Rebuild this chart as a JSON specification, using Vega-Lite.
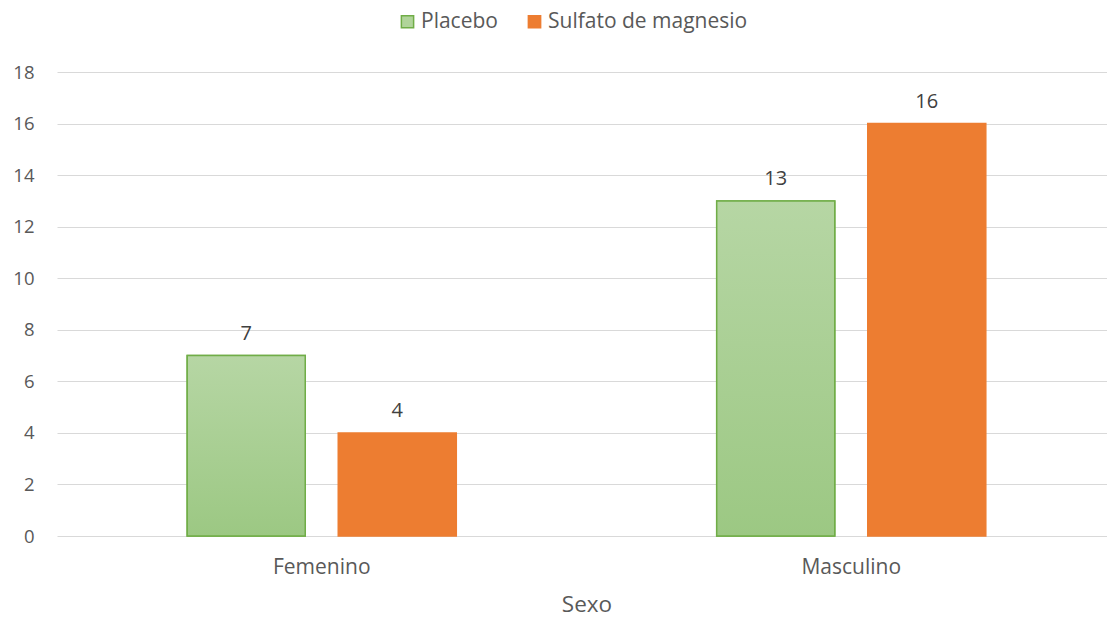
{
  "$schema": "https://vega.github.io/schema/vega-lite/v6.json",
  "width": 1050,
  "height": 464,
  "autosize": {"type": "none"},
  "padding": {"left": 57, "top": 72, "right": 0, "bottom": 82},
  "background": "white",
  "config": {"font": "Open Sans", "view": {"stroke": null}},
  "data": {
    "values": [
      {"sexo": "Femenino", "grupo": "Placebo", "n": 7},
      {"sexo": "Femenino", "grupo": "Sulfato de magnesio", "n": 4},
      {"sexo": "Masculino", "grupo": "Placebo", "n": 13},
      {"sexo": "Masculino", "grupo": "Sulfato de magnesio", "n": 16}
    ]
  },
  "encoding": {
    "x": {
      "field": "sexo",
      "type": "nominal",
      "title": "Sexo",
      "scale": {"paddingInner": 0, "paddingOuter": 0, "range": [0, 1059]},
      "axis": {
        "labelAngle": 0,
        "ticks": false,
        "domain": false,
        "labelPadding": 20,
        "labelFontSize": 21,
        "labelColor": "#595959",
        "titleFontSize": 22.5,
        "titleFontWeight": "normal",
        "titleColor": "#595959",
        "titlePadding": 16
      }
    },
    "xOffset": {
      "field": "grupo",
      "type": "nominal",
      "scale": {
        "domain": ["Placebo", "Sulfato de magnesio"],
        "paddingInner": 0.2185,
        "paddingOuter": 0.862
      }
    },
    "y": {
      "field": "n",
      "type": "quantitative",
      "scale": {"domain": [0, 18]},
      "axis": {
        "title": null,
        "values": [0, 2, 4, 6, 8, 10, 12, 14, 16, 18],
        "domain": false,
        "ticks": false,
        "labelPadding": 23,
        "labelFontSize": 18.5,
        "labelColor": "#595959",
        "gridColor": "#d9d9d9",
        "gridWidth": 1.2
      }
    }
  },
  "layer": [
    {
      "mark": {"type": "bar", "strokeWidth": 1.5},
      "encoding": {
        "color": {
          "field": "grupo",
          "type": "nominal",
          "scale": {"domain": ["Placebo", "Sulfato de magnesio"], "range": ["#b0d49a", "#ed7d31"]},
          "legend": {
            "title": null,
            "orient": "none",
            "direction": "horizontal",
            "legendX": 340,
            "legendY": -61,
            "symbolType": "square",
            "symbolSize": 150,
            "labelFontSize": 21,
            "labelLimit": 400,
            "labelColor": "#595959",
            "labelOffset": 3,
            "columnPadding": 26
          }
        },
        "stroke": {
          "field": "grupo",
          "type": "nominal",
          "scale": {"domain": ["Placebo", "Sulfato de magnesio"], "range": ["#70ad47", "#ed7d31"]},
          "legend": {
            "title": null,
            "orient": "none",
            "direction": "horizontal",
            "legendX": 340,
            "legendY": -61,
            "symbolType": "square",
            "symbolSize": 150,
            "labelFontSize": 21,
            "labelLimit": 400,
            "labelColor": "#595959",
            "labelOffset": 3,
            "columnPadding": 26
          }
        }
      }
    },
    {
      "transform": [{"filter": "datum.grupo === 'Placebo'"}],
      "mark": {
        "type": "bar",
        "fill": {
          "gradient": "linear",
          "x1": 0, "y1": 0, "x2": 0, "y2": 1,
          "stops": [
            {"offset": 0, "color": "#b6d6a4"},
            {"offset": 1, "color": "#9cc883"}
          ]
        },
        "stroke": "#70ad47",
        "strokeWidth": 1.5
      }
    },
    {
      "mark": {"type": "text", "baseline": "bottom", "dy": -12, "fontSize": 20, "color": "#404040"},
      "encoding": {"text": {"field": "n", "type": "quantitative"}}
    }
  ]
}
